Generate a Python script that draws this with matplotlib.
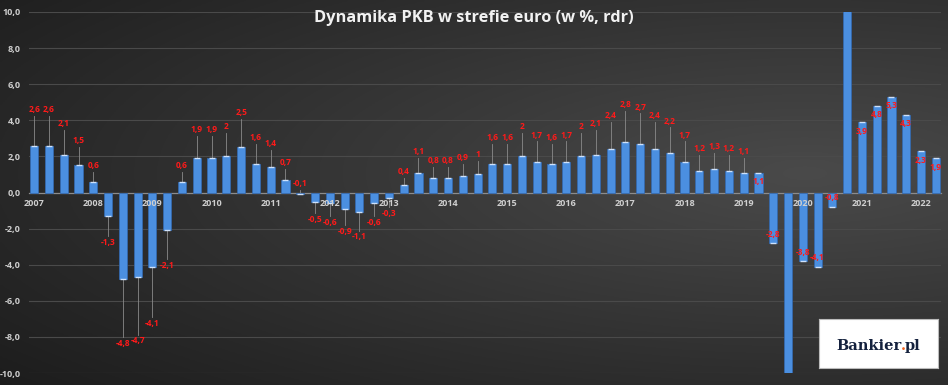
import numpy as np
import matplotlib
matplotlib.use("Agg")
from matplotlib import pyplot as plt

# kwartalna dynamika PKB strefy euro, r/r w %
years = ["2007", "2008", "2009", "2010", "2011", "2012", "2013", "2014",
         "2015", "2016", "2017", "2018", "2019", "2020", "2021", "2022"]
values = [2.6, 2.6, 2.1, 1.5,
          0.6, -1.3, -4.8, -4.7,
          -4.1, -2.1, 0.6, 1.9,
          1.9, 2.0, 2.5, 1.6,
          1.4, 0.7, -0.1, -0.5,
          -0.6, -0.9, -1.1, -0.6,
          -0.3, 0.4, 1.1, 0.8,
          0.8, 0.9, 1.0, 1.6,
          1.6, 2.0, 1.7, 1.6,
          1.7, 2.0, 2.1, 2.4,
          2.8, 2.7, 2.4, 2.2,
          1.7, 1.2, 1.3, 1.2,
          1.1, 1.1, -2.8, -14.5,
          -3.8, -4.1, -0.8, 14.2,
          3.9, 4.8, 5.3, 4.3,
          2.3, 1.9]
inside_from = 49  # od tego kwartalu etykiety w srodku slupka
logo_parts = [("Bankier", "#14213d"), (".", "#f26522"), ("pl", "#14213d")]


def fmt(v):
    s = ("%.1f" % v).replace(".", ",")
    if s.endswith(",0"):
        s = s[:-2]
    return s


def main():
    fig = plt.figure(figsize=(9.48, 3.85), dpi=100)

    # tlo z gradientem
    bg = fig.add_axes([0, 0, 1, 1], zorder=0)
    gx, gy = np.meshgrid(np.linspace(0, 1, 400), np.linspace(0, 1, 200))
    d = np.sqrt(((gx - 0.85) * 1.0) ** 2 + ((gy - 0.55) * 1.3) ** 2)
    shade = np.clip(0.29 - 0.16 * d, 0.11, 0.3)
    img = np.dstack([shade, shade, shade])
    bg.imshow(img, aspect="auto", extent=[0, 1, 0, 1], origin="lower")
    bg.axis("off")

    ax = fig.add_axes([29 / 948, 12 / 385, 912 / 948, 361 / 385], zorder=1)
    ax.patch.set_alpha(0)
    n = len(values)
    x = np.arange(n)
    ax.set_xlim(-0.35, n - 0.65)
    ax.set_ylim(-10, 10)

    ax.set_yticks(np.arange(-10, 10.1, 2))
    ax.set_yticklabels([("%.1f" % t).replace(".", ",") for t in np.arange(-10, 10.1, 2)])
    ax.grid(axis="y", color="#4a4a4a", lw=0.8)
    ax.set_axisbelow(True)
    for s in ["top", "right", "left"]:
        ax.spines[s].set_visible(False)
    ax.spines["bottom"].set_position(("data", 0))
    ax.spines["bottom"].set_color("#8c8c8c")
    ax.spines["bottom"].set_linewidth(0.9)
    ax.spines["bottom"].set_zorder(1)
    ax.set_xticks(x[::4])
    ax.set_xticklabels(years)
    ax.tick_params(axis="x", length=0, pad=5, labelsize=6.5, labelcolor="#cfcfcf")
    ax.tick_params(axis="y", length=0, pad=6, labelsize=6.5, labelcolor="#cfcfcf")
    for lab in ax.get_xticklabels() + ax.get_yticklabels():
        lab.set_fontweight("bold")
        lab.set_family("Open Sans")
    ax.xaxis.set_zorder(6)

    ax.bar(x, values, width=0.55, color="#4b8fe0", edgecolor="#3569ad",
           linewidth=0.6, zorder=3)
    ax.scatter(x, values, marker="_", s=20, color="#cfe2fb", linewidths=1.0, zorder=4)

    for i, v in enumerate(values):
        if abs(v) > 10:
            continue
        if i >= inside_from:
            sgn = 1 if v >= 0 else -1
            ax.text(i, v - sgn * 0.5, fmt(v), ha="center", va="center",
                    color="#ff1a1a", fontsize=6, fontweight="bold",
                    family="Open Sans", zorder=5)
            continue
        if v > -0.2:
            sgn, off = 1, 0.55 + 0.55 * abs(v)
        else:
            sgn, off = -1, 0.7 + 0.6 * abs(v)
        ty = v + sgn * off
        ax.plot([i, i], [v, ty - sgn * 0.35], color="#8a8a8a", lw=0.6, zorder=2)
        ax.text(i, ty, fmt(v), ha="center", va="center", color="#ff1a1a",
                fontsize=6, fontweight="bold", family="Open Sans", zorder=5)

    fig.text(0.5, 0.953, "Dynamika PKB w strefie euro (w %, rdr)", ha="center",
             va="center", color="#f2f2f2", fontsize=11.8, fontweight="bold",
             family="Open Sans")

    # logo
    box = fig.add_axes([819 / 948, 17 / 385, 119 / 948, 49 / 385], zorder=6)
    box.set_xticks([])
    box.set_yticks([])
    box.set_facecolor("white")
    for s in box.spines.values():
        s.set_color("#bbbbbb")
        s.set_linewidth(0.8)
    fig.canvas.draw()
    r = fig.canvas.get_renderer()
    widths = []
    for txt, col in logo_parts:
        probe = fig.text(0, 0, txt, fontsize=10.5, fontweight="bold",
                         family="DejaVu Serif")
        widths.append(probe.get_window_extent(r).width)
        probe.remove()
    bb = box.get_window_extent(r)
    px = bb.x0 + (bb.width - sum(widths) + 2) / 2
    py = bb.y0 + bb.height * 0.48
    for (txt, col), w in zip(logo_parts, widths):
        fig.text(px / fig.bbox.width, py / fig.bbox.height, txt, ha="left",
                 va="center_baseline", color=col, fontsize=10.5,
                 fontweight="bold", family="DejaVu Serif", zorder=10)
        px += w - 1

    fig.savefig("out.png", dpi=100)


if __name__ == "__main__":
    main()
